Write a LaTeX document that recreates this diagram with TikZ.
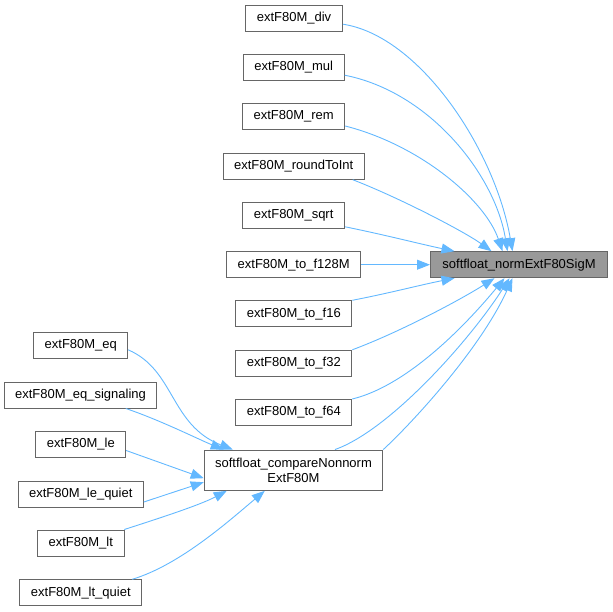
\documentclass[tikz,border=0pt]{standalone}
\usepackage{fontspec}
\setmainfont{Liberation Sans}
\usetikzlibrary{arrows.meta}
\definecolor{edgeblue}{HTML}{63B8FF}
\definecolor{boxborder}{HTML}{666666}
\definecolor{mainfill}{HTML}{999999}
\begin{document}
\begin{tikzpicture}[x=1pt,y=-1pt,
  fn/.style={draw=boxborder,line width=1pt,fill=white,rectangle,inner sep=0pt,
    minimum height=26pt,font=\fontsize{13}{15}\selectfont,align=center},
  mainfn/.style={fn,fill=mainfill},
  call/.style={draw=edgeblue,line width=0.9pt,
    -{Triangle[length=13pt,width=10pt,fill=edgeblue]}}]
\useasboundingbox (0,0) rectangle (613,611);
% right column
\node[fn,minimum width=97pt]  (div)  at (294,18.2) {extF80M\_div};
\node[fn,minimum width=101pt] (mul)  at (293.7,67.2) {extF80M\_mul};
\node[fn,minimum width=102pt] (rem)  at (293.7,116.5) {extF80M\_rem};
\node[fn,minimum width=141pt] (rti)  at (293.7,166.2) {extF80M\_roundToInt};
\node[fn,minimum width=102pt] (sqrt) at (293.7,215.3) {extF80M\_sqrt};
\node[fn,minimum width=134pt] (f128) at (293.7,264.7) {extF80M\_to\_f128M};
\node[fn,minimum width=116pt] (f16)  at (293.8,313.8) {extF80M\_to\_f16};
\node[fn,minimum width=116pt] (f32)  at (293.8,363.3) {extF80M\_to\_f32};
\node[fn,minimum width=116pt] (f64)  at (293.8,412.5) {extF80M\_to\_f64};
\node[fn,minimum width=178.5pt,minimum height=40.3pt] (cmp) at (293.5,470.2)
  {softfloat\_compareNonnorm\\ExtF80M};
\node[mainfn,minimum width=177pt] (main) at (519,264.7) {softfloat\_normExtF80SigM};
% left column
\node[fn,minimum width=93.7pt]  (eq)   at (80.8,345.8) {extF80M\_eq};
\node[fn,minimum width=151.6pt] (eqs)  at (80.5,395) {extF80M\_eq\_signaling};
\node[fn,minimum width=89.7pt]  (le)   at (80.8,444.5) {extF80M\_le};
\node[fn,minimum width=125pt]   (leq)  at (80.8,494) {extF80M\_le\_quiet};
\node[fn,minimum width=87pt]    (lt)   at (80.8,543) {extF80M\_lt};
\node[fn,minimum width=121.7pt] (ltq)  at (80.8,592.8) {extF80M\_lt\_quiet};
% edges into main
\draw[call] ([yshift=-6pt]div.east) .. controls (420,36) and (495,150) .. ([xshift=82.5pt]main.north west);
\draw[call] ([yshift=-8pt]mul.east) .. controls (430,92) and (495,175) .. ([xshift=77.5pt]main.north west);
\draw[call] ([yshift=-9.5pt]rem.east) .. controls (420,145) and (485,200) .. ([xshift=72.5pt]main.north west);
\draw[call] ([xshift=-12pt]rti.south east) .. controls (400,198) and (465,232) .. ([xshift=61.5pt]main.north west);
\draw[call] ([yshift=-11.5pt]sqrt.east) .. controls (390,236) and (420,244) .. ([xshift=24.5pt]main.north west);
\draw[call] (f128.east) -- (main.west);
\draw[call] (f16.north east) .. controls (390,293) and (420,285) .. ([xshift=24.5pt]main.south west);
\draw[call] (f32.north east) .. controls (400,332) and (460,300) .. ([xshift=64.5pt]main.south west);
\draw[call] (f64.north east) .. controls (410,385) and (470,320) .. ([xshift=74.5pt]main.south west);
\draw[call] ([xshift=41.5pt]cmp.north) .. controls (390,430) and (470,340) .. ([xshift=79.5pt]main.south west);
\draw[call] (cmp.north east) .. controls (410,425) and (480,350) .. ([xshift=82.5pt]main.south west);
% edges into compare
\draw[call] ([yshift=-4pt]eq.east) .. controls (175,370) and (170,425) .. ([xshift=29pt]cmp.north west);
\draw[call] ([xshift=-31pt]eqs.south east) .. controls (160,420) and (200,440) .. ([xshift=20pt]cmp.north west);
\draw[call] ([yshift=-6pt]le.east) -- ([yshift=-8pt]cmp.west);
\draw[call] ([yshift=-8pt]leq.east) -- ([yshift=-12pt]cmp.west);
\draw[call] ([xshift=-0.5pt]lt.north east) .. controls (160,518) and (200,505) .. ([xshift=23pt]cmp.south west);
\draw[call] ([xshift=-10pt]ltq.north east) .. controls (180,565) and (230,520) .. ([xshift=61pt]cmp.south west);
\end{tikzpicture}
\end{document}
